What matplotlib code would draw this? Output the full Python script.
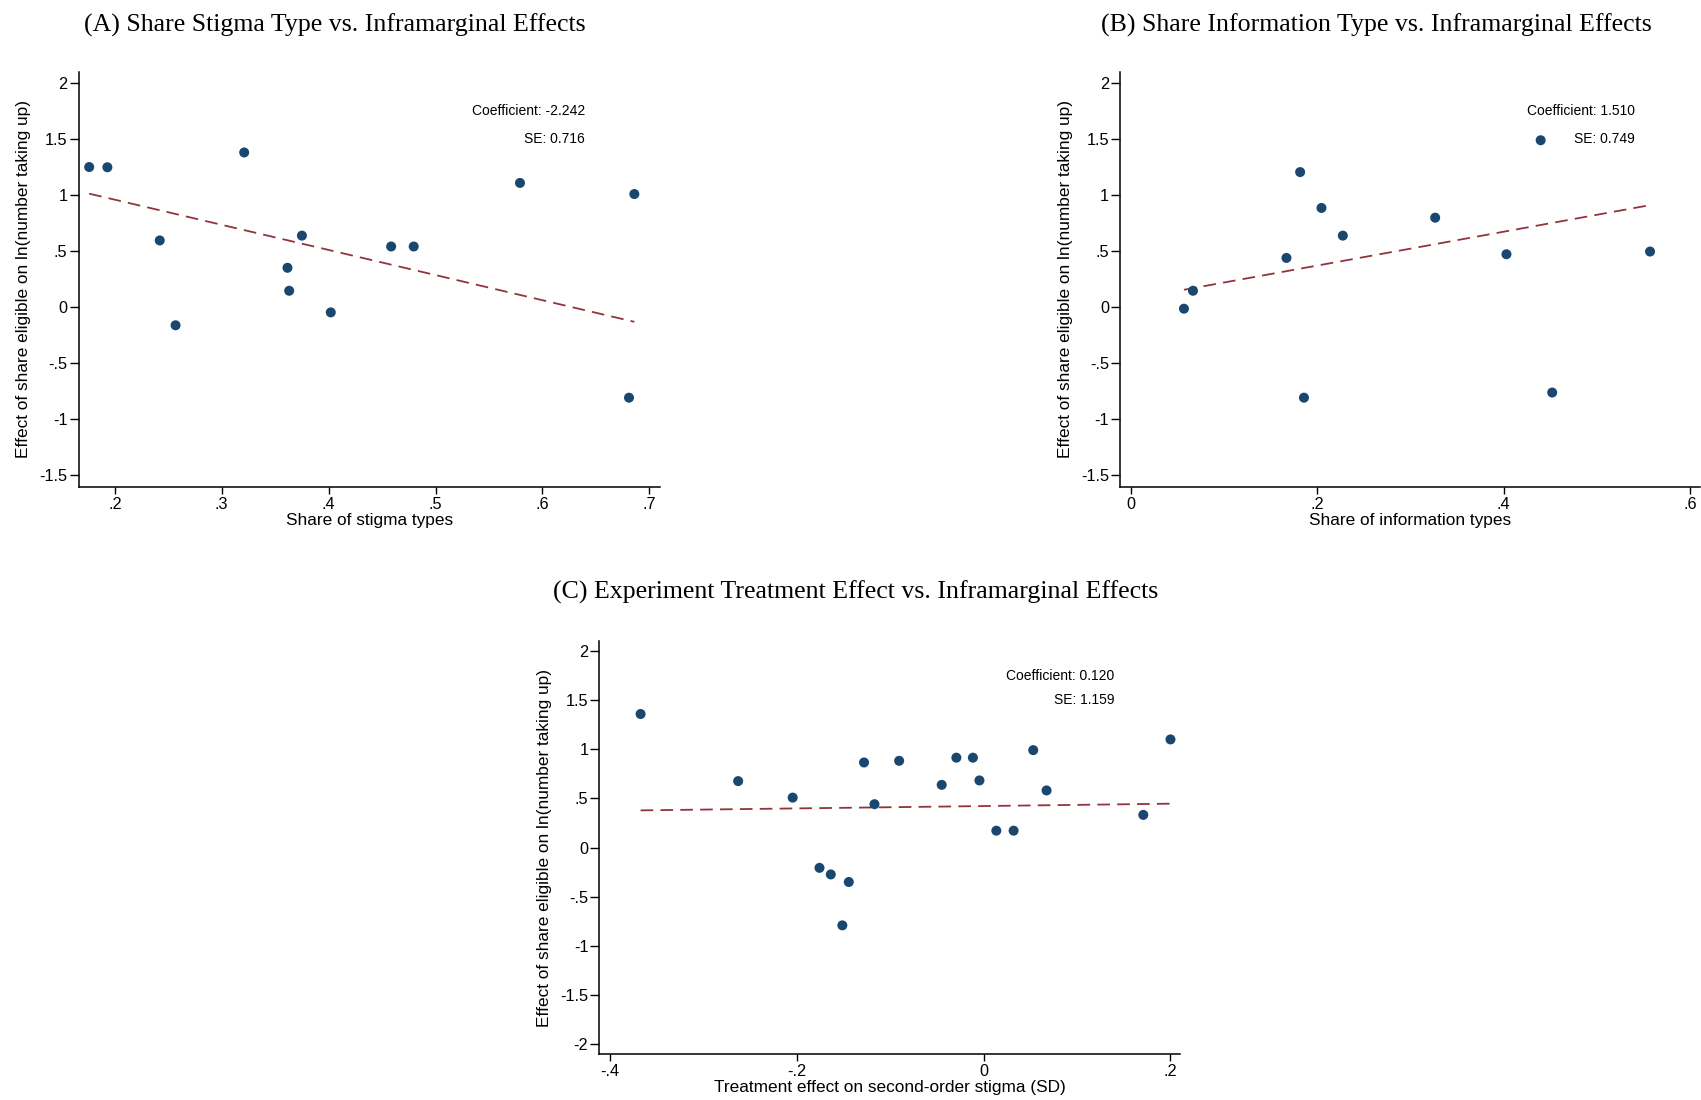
import numpy as np
import matplotlib
matplotlib.use("Agg")
import matplotlib.pyplot as plt

# Panel A: share of stigma types vs inframarginal effects
stigma_share = [0.176, 0.193, 0.321, 0.579, 0.686, 0.242, 0.375, 0.4585, 0.4796,
                0.3615, 0.3631, 0.2568, 0.402, 0.681]
stigma_effect = [1.252, 1.250, 1.382, 1.110, 1.011, 0.597, 0.640, 0.543, 0.543,
                 0.353, 0.148, -0.160, -0.045, -0.806]

# Panel B: share of information types vs inframarginal effects
info_share = [0.0568, 0.0665, 0.1668, 0.1815, 0.1856, 0.2044, 0.2273, 0.3264,
              0.4029, 0.4396, 0.452, 0.557]
info_effect = [-0.012, 0.148, 0.441, 1.207, -0.806, 0.887, 0.640, 0.800,
               0.474, 1.491, -0.760, 0.498]

# Panel C: experiment treatment effect vs inframarginal effects
treat_effect = [-0.3675, -0.263, -0.2046, -0.1759, -0.1638, -0.1445, -0.1514, -0.1282,
                -0.117, -0.0906, -0.045, -0.0293, -0.0116, -0.0046, 0.0135, 0.032,
                0.053, 0.0673, 0.1709, 0.200]
treat_infra = [1.361, 0.677, 0.509, -0.207, -0.274, -0.351, -0.793, 0.867,
               0.442, 0.884, 0.639, 0.916, 0.916, 0.684, 0.172, 0.172,
               0.993, 0.582, 0.333, 1.102]

# fitted lines (slope as reported, intercept)
slopes = [-2.242, 1.510, 0.120]
intercepts = [1.409, 0.071, 0.423]
std_errs = [0.716, 0.749, 1.159]

titles = ["(A) Share Stigma Type vs. Inframarginal Effects",
          "(B) Share Information Type vs. Inframarginal Effects",
          "(C) Experiment Treatment Effect vs. Inframarginal Effects"]
xlabels = ["Share of stigma types", "Share of information types",
           "Treatment effect on second-order stigma (SD)"]
ylabel = "Effect of share eligible on ln(number taking up)"

xticks_a = [0.2, 0.3, 0.4, 0.5, 0.6, 0.7]
xticklabels_a = [".2", ".3", ".4", ".5", ".6", ".7"]
xticks_b = [0, 0.2, 0.4, 0.6]
xticklabels_b = ["0", ".2", ".4", ".6"]
xticks_c = [-0.4, -0.2, 0, 0.2]
xticklabels_c = ["-.4", "-.2", "0", ".2"]
yticks_ab = [-1.5, -1, -0.5, 0, 0.5, 1, 1.5, 2]
yticklabels_ab = ["-1.5", "-1", "-.5", "0", ".5", "1", "1.5", "2"]
yticks_c = [-2, -1.5, -1, -0.5, 0, 0.5, 1, 1.5, 2]
yticklabels_c = ["-2", "-1.5", "-1", "-.5", "0", ".5", "1", "1.5", "2"]

navy = "#1a476f"
cranberry = "#90353b"
W, H = 1701, 1100

fig = plt.figure(figsize=(W / 100, H / 100), dpi=100)
plt.rcParams['font.family'] = ['Liberation Sans', 'DejaVu Sans']


def px_axes(left, top, right, bottom):
    return fig.add_axes([left / W, 1 - bottom / H, (right - left) / W, (bottom - top) / H])


def panel(ax, x, y, i, xlim, ylim, xt, xtl, yt, ytl, text_x):
    ax.scatter(x, y, s=52, color=navy, edgecolors="none", zorder=3)
    xs = np.array([min(x), max(x)])
    ax.plot(xs, intercepts[i] + slopes[i] * xs, color=cranberry, lw=1.3,
            ls=(0, (7, 4)), zorder=2)
    ax.set_xlim(*xlim)
    ax.set_ylim(*ylim)
    ax.set_xticks(xt)
    ax.set_xticklabels(xtl)
    ax.set_yticks(yt)
    ax.set_yticklabels(ytl)
    ax.tick_params(axis="y", length=6.5, width=1, labelsize=11.7, pad=1.5)
    ax.tick_params(axis="x", length=5, width=1, labelsize=11.7, pad=2)
    for s in ["top", "right"]:
        ax.spines[s].set_visible(False)
    for s in ["left", "bottom"]:
        ax.spines[s].set_linewidth(1.1)
    ax.set_xlabel(xlabels[i], fontsize=12.4, labelpad=1)
    ax.set_ylabel(ylabel, fontsize=12.4, labelpad=6)
    ax.text(text_x, 1.75, f"Coefficient: {slopes[i]:.3f}", ha="right", va="center", fontsize=10)
    ax.text(text_x, 1.5, f"SE: {std_errs[i]:.3f}", ha="right", va="center", fontsize=10)


ax_a = px_axes(78.5, 72, 660, 487)
panel(ax_a, stigma_share, stigma_effect, 0, (0.166, 0.710), (-1.603, 2.1),
      xticks_a, xticklabels_a, yticks_ab, yticklabels_ab, 0.640)

ax_b = px_axes(1120.3, 72, 1700, 487)
panel(ax_b, info_share, info_effect, 1, (-0.0115, 0.6106), (-1.603, 2.1),
      xticks_b, xticklabels_b, yticks_ab, yticklabels_ab, 0.5404)

ax_c = px_axes(599.4, 641.3, 1180, 1054.1)
panel(ax_c, treat_effect, treat_infra, 2, (-0.4116, 0.2102), (-2.105, 2.102),
      xticks_c, xticklabels_c, yticks_c, yticklabels_c, 0.1396)

title_font = dict(family="Liberation Serif", fontsize=18.6, ha="center", va="baseline")
fig.text(334.5 / W, 1 - 31.1 / H, titles[0], **title_font)
fig.text(1376 / W, 1 - 31.1 / H, titles[1], **title_font)
fig.text(855.4 / W, 1 - 598.9 / H, titles[2], **title_font)

fig.savefig("out.png", dpi=100)
